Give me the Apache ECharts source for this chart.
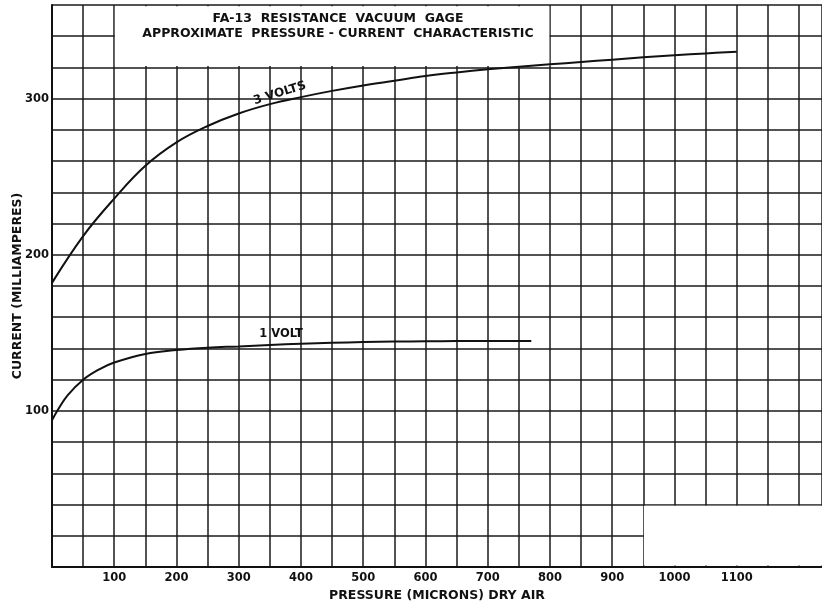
<!DOCTYPE html>
<html>
<head>
<meta charset="utf-8">
<script src="https://cdn.jsdelivr.net/npm/echarts@6/dist/echarts.min.js"></script>
<style>html,body{margin:0;padding:0;background:#fff}#c{width:822px;height:605px}</style>
</head>
<body>
<div id="c"></div>
<script>
// Data
var pressure3V = [0, 50, 100, 150, 200, 250, 300, 350, 400, 450, 500, 550, 600, 650, 700, 750, 800, 850, 900, 950, 1000, 1050, 1100];
var current3V  = [182, 212, 236, 257, 272, 282.5, 290.5, 296.5, 301, 305, 308.5, 311.5, 314.5, 316.8, 318.8, 320.5, 322, 323.5, 325, 326.5, 327.8, 329, 330];
var pressure1V = [0, 10, 25, 50, 75, 100, 150, 200, 250, 300, 350, 400, 450, 500, 550, 600, 650, 700, 770];
var current1V  = [94, 101, 110, 120, 126.5, 131, 136.5, 139, 140.5, 141.3, 142.2, 143, 143.6, 144.1, 144.4, 144.6, 144.7, 144.7, 144.7];
var xTickLabels = [100, 200, 300, 400, 500, 600, 700, 800, 900, 1000, 1100];
var yTickLabels = [100, 200, 300];
var titleLines = ['FA-13  RESISTANCE  VACUUM  GAGE', 'APPROXIMATE  PRESSURE - CURRENT  CHARACTERISTIC'];
var seriesNames = ['3 VOLTS', '1 VOLT'];

function pairs(xs, ys) { return xs.map(function (x, i) { return [x, ys[i]]; }); }

var FONT = 'DejaVu Sans';
var INK = '#111';
var chart = echarts.init(document.getElementById('c'), null, { renderer: 'canvas' });
chart.setOption({
  animation: false,
  backgroundColor: '#fff',
  title: {
    text: titleLines.join('\n'),
    left: 333, top: 6, textAlign: 'center',
    textStyle: { fontFamily: FONT, fontWeight: 'bold', fontSize: 12.5, color: INK, lineHeight: 15 }
  },
  grid: { left: 52, right: 0, top: 5, bottom: 38, outerBoundsMode: 'none', containLabel: false },
  xAxis: {
    type: 'value', min: 0, max: 1237, interval: 50,
    name: 'PRESSURE (MICRONS) DRY AIR', nameLocation: 'middle', nameGap: 20,
    nameTextStyle: { fontFamily: FONT, fontWeight: 'bold', fontSize: 12.5, color: INK },
    axisLine: { show: true, lineStyle: { color: INK, width: 2 } },
    axisTick: { show: false },
    axisLabel: {
      margin: 5, fontFamily: FONT, fontSize: 11.5, fontWeight: 'bold', color: INK,
      formatter: function (v) { return xTickLabels.indexOf(v) >= 0 ? String(v) : ''; }
    },
    splitLine: { show: true, lineStyle: { color: '#1a1a1a', width: 1.5 } }
  },
  yAxis: {
    type: 'value', min: 0, max: 360, interval: 20,
    name: 'CURRENT (MILLIAMPERES)', nameLocation: 'middle', nameGap: 28, nameMoveOverlap: false,
    nameTextStyle: { fontFamily: FONT, fontWeight: 'bold', fontSize: 12.5, color: INK },
    axisLine: { show: true, lineStyle: { color: INK, width: 2 } },
    axisTick: { show: false },
    axisLabel: {
      margin: 3, fontFamily: FONT, fontSize: 11.5, fontWeight: 'bold', color: INK,
      formatter: function (v) { return yTickLabels.indexOf(v) >= 0 ? String(v) : ''; }
    },
    splitLine: { show: true, lineStyle: { color: '#1a1a1a', width: 1.5 } }
  },
  series: [
    {
      name: seriesNames[0], type: 'line', data: pairs(pressure3V, current3V),
      smooth: 0.4, symbol: 'none', z: 5,
      lineStyle: { color: INK, width: 2 },
      markArea: {
        silent: true, z: 1,
        itemStyle: { color: '#fff', opacity: 1 },
        data: [
          [{ xAxis: 101, yAxis: 321 }, { xAxis: 799, yAxis: 359.2 }],
          [{ xAxis: 951, yAxis: 0.9 }, { xAxis: 1237, yAxis: 39.3 }]
        ]
      },
      markPoint: {
        symbol: 'circle', symbolSize: 0, silent: true,
        label: { show: true, formatter: seriesNames[0], rotate: 17, fontFamily: FONT, fontWeight: 'bold', fontSize: 12, color: INK },
        data: [{ coord: [366, 303.5] }]
      }
    },
    {
      name: seriesNames[1], type: 'line', data: pairs(pressure1V, current1V),
      smooth: 0.4, symbol: 'none', z: 5,
      lineStyle: { color: INK, width: 2 },
      markPoint: {
        symbol: 'circle', symbolSize: 0, silent: true,
        label: { show: true, formatter: seriesNames[1], fontFamily: FONT, fontWeight: 'bold', fontSize: 11.5, color: INK },
        data: [{ coord: [368, 149] }]
      }
    }
  ]
});
</script>
</body>
</html>
